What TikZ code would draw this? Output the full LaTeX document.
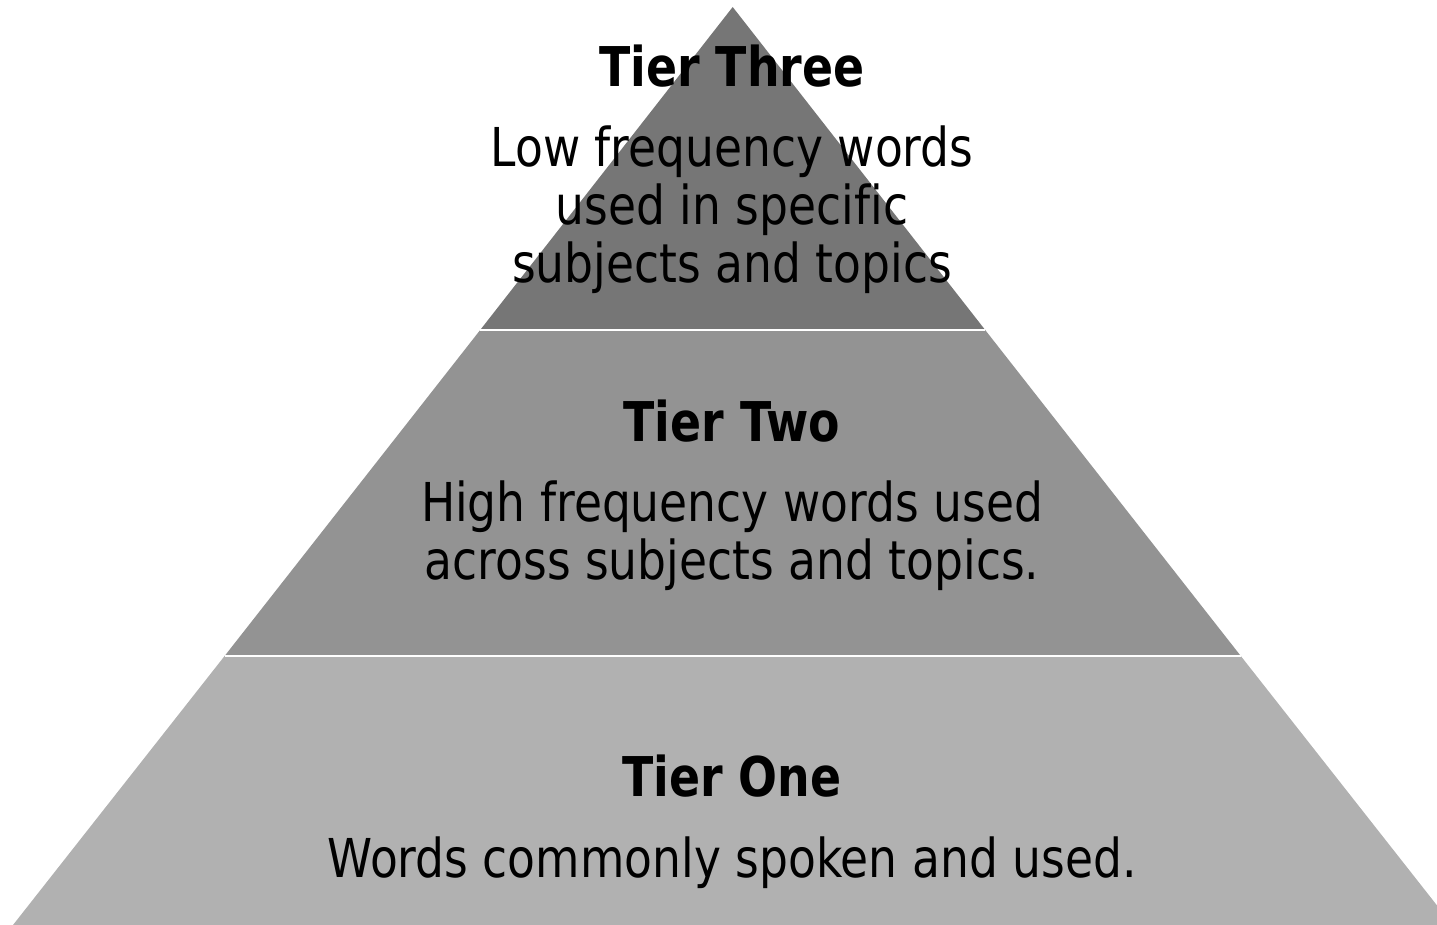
\documentclass[tikz,border=0pt]{standalone}
\usepackage{fontspec}
\setmainfont{DejaVu Sans}[FakeStretch=0.85,Ligatures=CommonOff,BoldFeatures={FakeStretch=0.836}]
\definecolor{tierthree}{HTML}{767676}
\definecolor{tiertwo}{HTML}{939393}
\definecolor{tierone}{HTML}{B1B1B1}
\begin{document}
\begin{tikzpicture}[x=0.5pt,y=-0.5pt,
  title/.style={anchor=base,inner sep=0pt,font=\fontsize{27.4}{30}\selectfont\bfseries},
  body/.style={anchor=base,inner sep=0pt,font=\fontsize{26.8}{29}\selectfont},
  sep/.style={draw=white,line width=1.3pt}]
\useasboundingbox (0,0) rectangle (1437,925);
\clip (0,0) rectangle (1437,925);
\coordinate (apex) at (732.7,7);
\coordinate (bl) at (13,925);
\coordinate (br) at (1452.4,925);
\coordinate (l1) at (480.2,330);
\coordinate (r1) at (985.2,330);
\coordinate (l2) at (224.6,656);
\coordinate (r2) at (1240.8,656);
\fill[tierone] (l2) -- (r2) -- (br) -- (bl) -- cycle;
\fill[tiertwo] (l1) -- (r1) -- (r2) -- (l2) -- cycle;
\fill[tierthree] (apex) -- (r1) -- (l1) -- cycle;
\draw[sep] (l1) -- (r1);
\draw[sep] (l2) -- (r2);
\node[title] (t3) at (732,87) {Tier Three};
\node[body] (t3a) at (732,167) {Low frequency words};
\node[body] (t3b) at (732,225) {used in specific};
\node[body] (t3c) at (732,283) {subjects and topics};
\node[title] (t2) at (732,442) {Tier Two};
\node[body] (t2a) at (732,522) {High frequency words used};
\node[body] (t2b) at (732,580) {across subjects and topics.};
\node[title] (t1) at (732,796) {Tier One};
\node[body] (t1a) at (732,877) {Words commonly spoken and used.};
\end{tikzpicture}
\end{document}
